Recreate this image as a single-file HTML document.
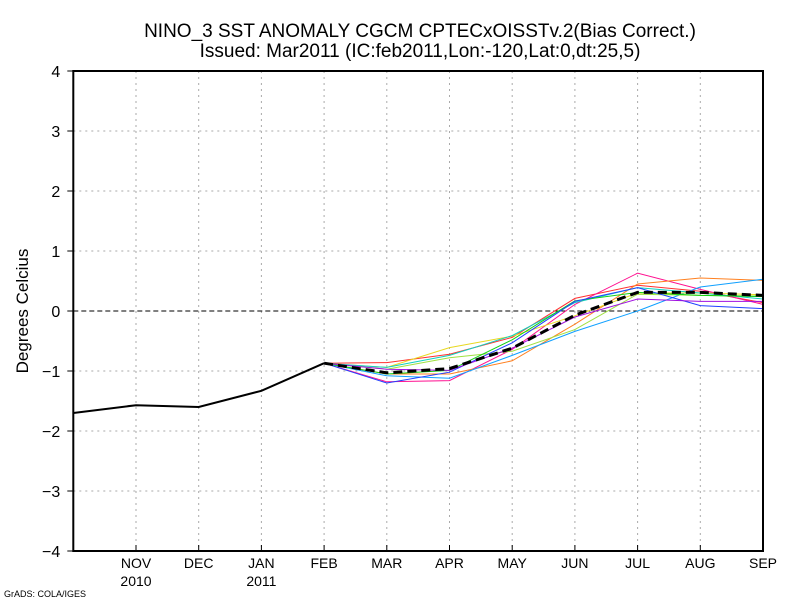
<!DOCTYPE html>
<html><head><meta charset="utf-8"><style>
body{margin:0;background:#fff;}
svg text{font-family:"Liberation Sans",sans-serif;}
</style></head><body>
<svg id="chart" width="800" height="600" xmlns="http://www.w3.org/2000/svg">
<text x="420" y="37" text-anchor="middle" font-size="19">NINO_3 SST ANOMALY CGCM CPTECxOISSTv.2(Bias Correct.)</text>
<text x="420" y="57" text-anchor="middle" font-size="19">Issued:  Mar2011 (IC:feb2011,Lon:-120,Lat:0,dt:25,5)</text>
<text transform="translate(28,311) rotate(-90)" text-anchor="middle" font-size="17">Degrees Celcius</text>
<text x="4" y="597" font-size="9">GrADS: COLA/IGES</text>
<g id="grid"></g><g id="series"></g><g id="axes"></g>
</svg>
<script>
const months=["OCT","NOV","DEC","JAN","FEB","MAR","APR","MAY","JUN","JUL","AUG","SEP"];
const years=["","2010","","2011","","","","","","","",""];
const yTicks=[-4,-3,-2,-1,0,1,2,3,4];
const observed=[-1.7,-1.57,-1.6,-1.33,-0.87];
const ensMean=[-0.87,-1.03,-0.96,-0.62,-0.07,0.31,0.31,0.26];
const memRed=[-0.87,-0.86,-0.72,-0.44,0.21,0.43,0.33,0.14];
const memPink=[-0.87,-1.18,-1.16,-0.64,0.11,0.63,0.36,0.11];
const memOrange=[-0.87,-1.05,-1.05,-0.83,-0.22,0.45,0.55,0.51];
const memSky=[-0.87,-1.08,-1.12,-0.74,-0.34,0.0,0.40,0.53];
const memYellow=[-0.87,-0.94,-0.61,-0.42,-0.08,0.30,0.30,0.27];
const memLime=[-0.87,-0.97,-0.78,-0.67,-0.31,0.28,0.26,0.25];
const memTeal=[-0.87,-0.94,-0.74,-0.41,0.14,0.39,0.30,0.20];
const memGreen=[-0.87,-1.05,-0.99,-0.48,0.17,0.31,0.26,0.24];
const memBlue=[-0.87,-1.2,-1.02,-0.53,0.16,0.39,0.09,0.04];
const memPurple=[-0.87,-0.97,-0.99,-0.62,-0.1,0.20,0.16,0.16];
const L=73.3,R=763,T=71,B=551,step=(R-L)/11;
const xs=i=>L+i*step, ys=v=>311-v*60;
const NS="http://www.w3.org/2000/svg";
function mk(tag,attrs,parent){const e=document.createElementNS(NS,tag);for(const k in attrs)e.setAttribute(k,attrs[k]);parent.appendChild(e);return e;}
const grid=document.getElementById('grid'),ser=document.getElementById('series'),ax=document.getElementById('axes');
months.forEach((m,i)=>{ if(i>0&&i<11){const l=mk('line',{x1:xs(i),x2:xs(i),y1:T,y2:B,stroke:'#aaa','stroke-dasharray':'2,4'},grid);

}
if(i>0){const t=mk('text',{x:xs(i),y:568,'text-anchor':'middle','font-size':'14'},ax);t.textContent=m;


const tk=mk('line',{x1:xs(i),x2:xs(i),y1:B,y2:B-6,stroke:'#000'},ax);

}
if(years[i]){const t=mk('text',{x:xs(i),y:586,'text-anchor':'middle','font-size':'14'},ax);t.textContent=years[i];

}});
yTicks.forEach(v=>{ if(v!==4&&v!==-4&&v!==0){const l=mk('line',{x1:L,x2:R,y1:ys(v),y2:ys(v),stroke:'#aaa','stroke-dasharray':'2,4'},grid);

}
const t=mk('text',{x:L-13,y:ys(v)+6,'text-anchor':'end','font-size':'16'},ax);t.textContent=v<0?'\u2212'+(-v):v;


const tk=mk('line',{x1:L-6,x2:L,y1:ys(v),y2:ys(v),stroke:'#000'},ax);

});
const z=mk('line',{x1:L,x2:R,y1:ys(0),y2:ys(0),stroke:'#000','stroke-dasharray':'5,3'},grid);


function line(vals,start,color,w,dash,name){const p=vals.map((v,i)=>xs(start+i)+','+ys(v)).join(' ');
const e=mk('polyline',{points:p,fill:'none',stroke:color,'stroke-width':w},ser);if(dash)e.setAttribute('stroke-dasharray',dash);

}
const mem=[[memRed,'#ff3030'],[memPink,'#ff1090'],[memOrange,'#ff8020'],[memSky,'#10a0ff'],[memYellow,'#e8d820'],[memLime,'#a0e040'],[memTeal,'#10d0c0'],[memGreen,'#10d010'],[memBlue,'#2040ff'],[memPurple,'#a010e0']];
mem.forEach(m=>line(m[0],4,m[1],1,null,'ensemble-member'));
line(ensMean,4,'#000',3,'9,5','ensemble-mean');
line(observed,0,'#000',2,null,'observed-line');
const box=mk('rect',{x:L,y:T,width:R-L,height:B-T,fill:'none',stroke:'#000','stroke-width':2},ax);


</script>
</body></html>
